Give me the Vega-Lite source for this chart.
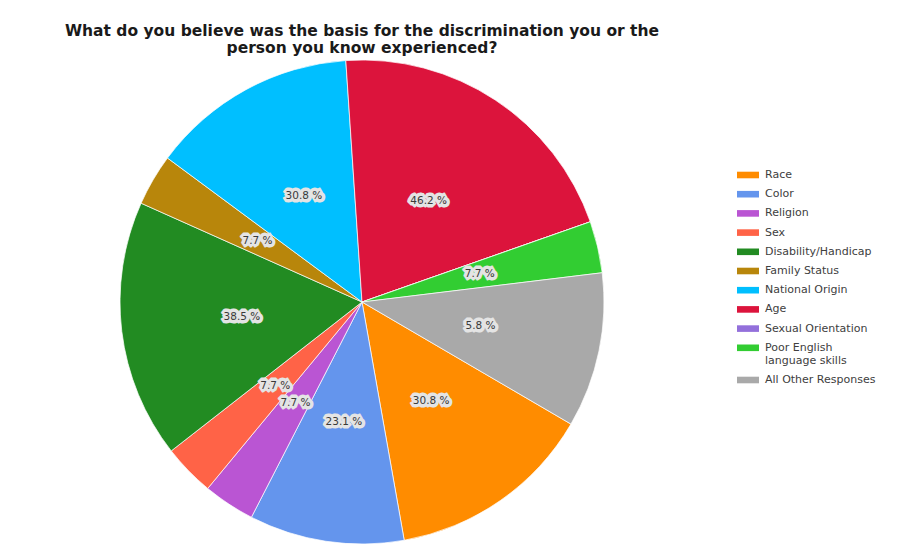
{
  "$schema": "https://vega.github.io/schema/vega-lite/v6.json",
  "autosize": {"type": "none"},
  "width": 600,
  "height": 480,
  "padding": {"left": 62, "top": 62, "right": 240, "bottom": 13},
  "background": "white",
  "title": {
    "text": ["What do you believe was the basis for the discrimination you or the", "person you know experienced?"],
    "font": "DejaVu Sans",
    "fontSize": 15.5,
    "fontWeight": "bold",
    "color": "#1a1a1a",
    "lineHeight": 17,
    "anchor": "middle",
    "frame": "group",
    "offset": 2
  },
  "config": {"view": {"stroke": null}},
  "data": {
    "values": [
      {"basis": "Race", "count": 16, "label": "30.8 %", "rank": 1},
      {"basis": "Color", "count": 12, "label": "23.1 %", "rank": 2},
      {"basis": "Religion", "count": 4, "label": "7.7 %", "rank": 3},
      {"basis": "Sex", "count": 4, "label": "7.7 %", "rank": 4},
      {"basis": "Disability/Handicap", "count": 20, "label": "38.5 %", "rank": 5},
      {"basis": "Family Status", "count": 4, "label": "7.7 %", "rank": 6},
      {"basis": "National Origin", "count": 16, "label": "30.8 %", "rank": 7},
      {"basis": "Age", "count": 24, "label": "46.2 %", "rank": 8},
      {"basis": "Sexual Orientation", "count": 0, "label": "", "rank": 9},
      {"basis": "Poor English language skills", "count": 4, "label": "7.7 %", "rank": 10},
      {"basis": "All Other Responses", "count": 12, "label": "5.8 %", "rank": 11}
    ]
  },
  "encoding": {
    "theta": {"field": "count", "type": "quantitative", "stack": true, "scale": {"range": [2.0996, 8.3828]}},
    "order": {"field": "rank", "type": "quantitative"}
  },
  "layer": [
    {
      "mark": {"type": "arc", "outerRadius": 242, "stroke": "#ffffff", "strokeWidth": 1, "strokeOpacity": 0.7},
      "encoding": {
        "color": {
          "field": "basis",
          "type": "nominal",
          "scale": {
            "domain": ["Race", "Color", "Religion", "Sex", "Disability/Handicap", "Family Status", "National Origin", "Age", "Sexual Orientation", "Poor English language skills", "All Other Responses"],
            "range": ["#FF8C00", "#6495ED", "#BA55D3", "#FF6347", "#228B22", "#B8860B", "#00BFFF", "#DC143C", "#9370DB", "#32CD32", "#A9A9A9"]
          },
          "legend": {
            "title": null,
            "orient": "none",
            "legendX": 675,
            "legendY": 102,
            "symbolType": "M-1,-0.3H1V0.3H-1Z",
            "symbolSize": 484,
            "symbolStrokeWidth": 0,
            "labelFont": "DejaVu Sans",
            "labelFontSize": 11,
            "labelColor": "#404040",
            "labelOffset": 6,
            "rowPadding": 3.2,
            "labelLimit": 200,
            "labelExpr": "datum.label == 'Poor English language skills' ? ['Poor English', 'language skills'] : datum.label"
          }
        }
      }
    },
    {
      "mark": {"type": "text", "radius": 121, "font": "DejaVu Sans", "fontSize": 10.5, "align": "center", "baseline": "middle", "stroke": "#e4e4e4", "strokeWidth": 7, "strokeJoin": "bevel", "fill": "#e4e4e4"},
      "encoding": {"text": {"field": "label", "type": "nominal"}}
    },
    {
      "mark": {"type": "text", "radius": 121, "font": "DejaVu Sans", "fontSize": 10.5, "align": "center", "baseline": "middle", "fill": "#3a3a3a"},
      "encoding": {"text": {"field": "label", "type": "nominal"}}
    }
  ]
}
